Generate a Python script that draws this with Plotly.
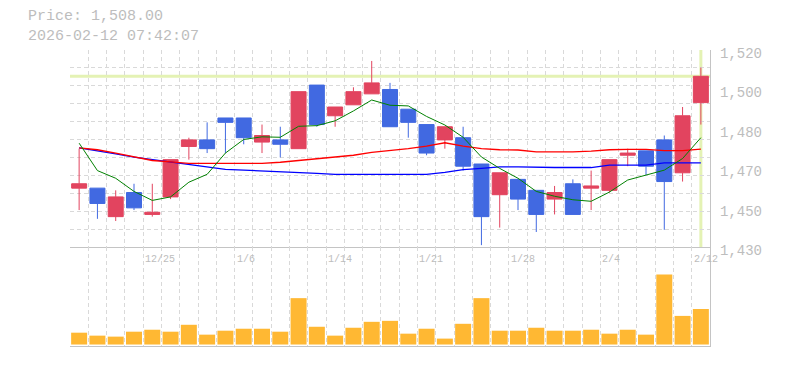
import plotly.graph_objects as go

# ---------------- data ----------------
dates = ["12/19", "12/22", "12/23", "12/24", "12/25", "12/26", "12/29", "12/30",
         "1/5", "1/6", "1/7", "1/8", "1/9", "1/13", "1/14", "1/15", "1/16",
         "1/19", "1/20", "1/21", "1/22", "1/23", "1/26", "1/27", "1/28", "1/29",
         "1/30", "2/2", "2/3", "2/4", "2/5", "2/6", "2/9", "2/10", "2/12"]
tick_dates = ["12/25", "1/6", "1/14", "1/21", "1/28", "2/4", "2/12"]

opens = [1457, 1457, 1444, 1455, 1445, 1453, 1476, 1479, 1489, 1489, 1478, 1479,
         1475, 1504, 1490, 1495, 1500, 1502, 1493, 1486, 1479, 1480, 1468, 1454,
         1461, 1456, 1452, 1459, 1457, 1456, 1472, 1474, 1479, 1464, 1496]
highs = [1475, 1457, 1456, 1459, 1459, 1470, 1480, 1487, 1489, 1489, 1486, 1485,
         1501, 1504, 1494, 1503, 1515, 1505, 1493, 1486, 1485, 1485, 1468, 1464,
         1461, 1456, 1458, 1461, 1465, 1470, 1475, 1474, 1481, 1494, 1512]
lows = [1447, 1443, 1442, 1447, 1444, 1452, 1470, 1473, 1473, 1477, 1473, 1471,
        1475, 1485, 1485, 1495, 1500, 1485, 1480, 1472, 1475, 1465, 1431, 1439,
        1447, 1437, 1445, 1445, 1447, 1455, 1467, 1463, 1438, 1460, 1486]
closes = [1459, 1450, 1453, 1448, 1446, 1470, 1479, 1475, 1487, 1480, 1481, 1477,
          1501, 1486, 1494, 1501, 1505, 1485, 1487, 1473, 1485, 1467, 1444, 1464,
          1452, 1445, 1455, 1445, 1458, 1470, 1473, 1467, 1460, 1490, 1508]

ma_short = [1477.5, 1465.0, 1461.5, 1455.5, 1451.4, 1453.0, 1459.7, 1463.3, 1473.0,
            1479.2, 1480.4, 1480.2, 1485.2, 1485.5, 1487.7, 1492.2, 1497.2, 1494.8,
            1494.5, 1489.7, 1485.8, 1480.2, 1471.2, 1466.0, 1461.5, 1455.5, 1453.3,
            1451.7, 1451.0, 1455.2, 1460.7, 1463.0, 1465.2, 1470.5, 1480.0]
ma_mid = [1475.4, 1474.5, 1473.0, 1471.4, 1469.6, 1469.0, 1468.3, 1468.3, 1468.3,
          1468.3, 1468.3, 1468.8, 1469.6, 1470.2, 1470.9, 1472.0, 1473.3, 1474.1,
          1475.0, 1476.2, 1477.7, 1476.2, 1475.0, 1474.5, 1474.4, 1473.5, 1473.5,
          1473.5, 1473.9, 1474.5, 1474.7, 1474.7, 1474.1, 1474.1, 1474.8]
ma_long = [1475.4, 1474.1, 1472.6, 1471.1, 1470.0, 1469.0, 1468.0, 1466.8, 1465.6,
           1465.2, 1464.9, 1464.4, 1464.0, 1463.7, 1463.3, 1463.3, 1463.3, 1463.3,
           1463.3, 1463.3, 1464.2, 1465.4, 1466.0, 1466.7, 1466.7, 1466.4, 1466.4,
           1466.4, 1466.4, 1467.5, 1467.5, 1467.5, 1468.5, 1468.5, 1468.5]

volumes = [12000, 9000, 8000, 13000, 15000, 13000, 20000, 10000, 14000, 16000,
           16000, 13000, 47000, 18000, 9000, 17000, 23000, 24000, 11000, 16000,
           6000, 21000, 47000, 14000, 14000, 17000, 14000, 14000, 15000, 11000,
           15000, 10000, 71000, 29000, 36000]

price_tickvals = [1430, 1448, 1466, 1484, 1502, 1520]
price_ticktext = ["1,430", "1,450", "1,470", "1,480", "1,500", "1,520"]

title_lines = ["Price: 1,508.00", "2026-02-12 07:42:07"]

# ---------------- styling ----------------
UP = "#e2445f"
DOWN = "#4169e1"
VOL = "#ffb833"
GRID = "#d9d9d9"
AXLINE = "#c4c4c4"
TXT = "#bdbdbd"
CROSS = "#e4f2b4"
MONO = "Liberation Mono, DejaVu Sans Mono, monospace"

W, H = 785, 370
ML, MR, MT, MB = 70, 75, 50, 20
plot_h = H - MT - MB

x = list(range(len(dates)))

fig = go.Figure()

fig.add_trace(go.Scatter(x=x, y=ma_long, mode="lines", xaxis="x", yaxis="y",
                         line=dict(color="#0000ff", width=1.3), hoverinfo="skip"))
fig.add_trace(go.Scatter(x=x, y=ma_mid, mode="lines", xaxis="x", yaxis="y",
                         line=dict(color="#ff0000", width=1.3), hoverinfo="skip"))
fig.add_trace(go.Scatter(x=x, y=ma_short, mode="lines", xaxis="x", yaxis="y",
                         line=dict(color="#008000", width=1), hoverinfo="skip"))

fig.add_trace(go.Candlestick(
    x=x, open=opens, high=highs, low=lows, close=closes,
    xaxis="x", yaxis="y", text=dates,
    increasing=dict(line=dict(color=UP, width=1), fillcolor=UP),
    decreasing=dict(line=dict(color=DOWN, width=1), fillcolor=DOWN),
    whiskerwidth=0,
))

# invisible companion trace so the label axis (y3) is rendered
fig.add_trace(go.Scatter(x=[x[-1]], y=[closes[-1]], xaxis="x", yaxis="y3",
                         mode="markers", marker=dict(opacity=0), hoverinfo="skip"))

fig.add_trace(go.Bar(x=x, y=volumes, xaxis="x2", yaxis="y2",
                     marker=dict(color=VOL, line=dict(width=0)), text=dates,
                     textposition="none"))

# crosshair on the latest bar
last = len(x) - 1
fig.add_shape(type="line", xref="x domain", yref="y", x0=0, x1=1,
              y0=closes[last], y1=closes[last],
              line=dict(color=CROSS, width=3), layer="below")
fig.add_shape(type="line", xref="x", yref="y domain", x0=x[last], x1=x[last],
              y0=0, y1=1, line=dict(color=CROSS, width=3), layer="below")

# date labels (left aligned at the bar's left grid line)
lab_y = (H - MB - 262) / plot_h
for d in tick_dates:
    i = dates.index(d)
    fig.add_annotation(x=x[i] - 0.5, y=lab_y, xref="x2", yref="paper",
                       text=d, showarrow=False, xanchor="left", yanchor="middle",
                       font=dict(family=MONO, size=10, color=TXT))

# title text (two lines in one block)
fig.add_annotation(x=(27 - ML) / (W - ML - MR), y=(H - MB - 26) / plot_h,
                   xref="paper", yref="paper", text="<br>".join(title_lines),
                   showarrow=False, xanchor="left", yanchor="middle", align="left",
                   borderpad=0, font=dict(family=MONO, size=15, color=TXT))

split = 100 / plot_h
xgrid = dict(tickmode="linear", tick0=-0.5, dtick=1, showgrid=True, gridcolor=GRID,
             griddash="4px,3px", gridwidth=1, showticklabels=False, ticks="",
             zeroline=False, range=[-0.5, len(x) - 0.5], fixedrange=True,
             showline=True, linecolor=AXLINE, linewidth=1)

fig.update_layout(
    width=W, height=H,
    margin=dict(l=ML, r=MR, t=MT, b=MB, pad=0),
    paper_bgcolor="white", plot_bgcolor="white",
    showlegend=False,
    boxgap=0.18, boxgroupgap=0, bargap=0.125,
    xaxis=dict(xgrid, anchor="y", domain=[0, 1], rangeslider=dict(visible=False)),
    xaxis2=dict(xgrid, anchor="y2", domain=[0, 1]),
    yaxis=dict(domain=[split, 1], range=[1430, 1520], side="right",
               tickmode="linear", tick0=1430, dtick=90 / 11,
               showgrid=True, gridcolor=GRID, griddash="4px,3px", gridwidth=1,
               showticklabels=False, ticks="", zeroline=False,
               showline=True, linecolor=AXLINE, linewidth=1, anchor="x"),
    yaxis3=dict(overlaying="y", range=[1430, 1520], side="right", anchor="x",
                tickmode="array", tickvals=price_tickvals, ticktext=price_ticktext,
                showgrid=False, zeroline=False, ticks="", showline=False,
                ticklabelstandoff=9, ticklabelshift=3,
                tickfont=dict(family=MONO, size=14, color=TXT)),
    yaxis2=dict(domain=[0, split], range=[-1500, 98500], side="right",
                showgrid=False, showticklabels=False, ticks="", zeroline=False,
                showline=True, linecolor=AXLINE, linewidth=1, anchor="x2"),
)

fig.write_html("out.html")
